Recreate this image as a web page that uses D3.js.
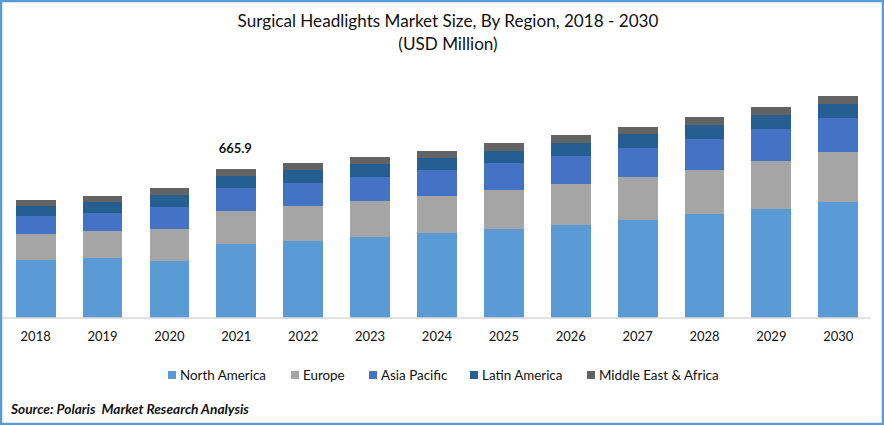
<!DOCTYPE html>
<html>
<head>
<meta charset="utf-8">
<script src="https://cdnjs.cloudflare.com/ajax/libs/d3/7.8.5/d3.min.js"></script>
<style>
  html, body { margin: 0; padding: 0; background: #fff; }
  svg { display: block; }
  text { font-family: Lato, "Open Sans", sans-serif; fill: #111; }
</style>
</head>
<body>
<div id="chart"></div>
<script>
// Values, USD million.
var years = ["2018", "2019", "2020", "2021", "2022", "2023", "2024", "2025", "2026", "2027", "2028", "2029", "2030"];
var regions = ["North America", "Europe", "Asia Pacific", "Latin America", "Middle East & Africa"];
var northAmerica = [259, 268, 255, 331, 344, 362, 380, 398, 416, 438, 465, 487, 518];
var europe = [116, 121, 143, 147, 156, 161, 165, 174, 183, 192, 197, 215, 224];
var asiaPacific = [80, 80, 98, 103, 103, 107, 116, 121, 125, 130, 139, 143, 152];
var latinAmerica = [45, 49, 54, 54, 58, 58, 54, 54, 58, 63, 63, 63, 63];
var middleEastAfrica = [27, 27, 31, 31, 31, 31, 31, 36, 36, 31, 36, 36, 36];
var totalLabel = { year: "2021", text: "665.9", value: 665.9 };

var seriesValues = [northAmerica, europe, asiaPacific, latinAmerica, middleEastAfrica];
var colors = ["#5b9bd5", "#a5a5a5", "#4472c4", "#255e91", "#636363"];

var width = 884, height = 425, baseline = 318;
var legendX = [168, 291, 369, 470, 587];

var table = years.map(function (y, i) {
  var row = { year: y };
  regions.forEach(function (r, k) { row[r] = seriesValues[k][i]; });
  return row;
});
var stacked = d3.stack().keys(regions)(table);

var x = d3.scaleBand().domain(years).range([2.2, 871.7]).paddingInner(0.405).paddingOuter(0.2025);
// 665.9 sits 149px above the axis in the reference.
var y = d3.scaleLinear().domain([0, 665.9]).range([baseline, 169]);

var svg = d3.select("#chart").append("svg").attr("width", width).attr("height", height);

svg.append("rect").attr("x", 1).attr("y", 1)
  .attr("width", width - 2).attr("height", height - 2)
  .attr("fill", "#fff").attr("stroke", "#5b9bd5").attr("stroke-width", 2.5);

// Title.
svg.append("text").attr("x", 448).attr("y", 27).attr("text-anchor", "middle")
  .attr("font-size", 17.1).text("Surgical Headlights Market Size, By Region, 2018 - 2030");
svg.append("text").attr("x", 448).attr("y", 50).attr("text-anchor", "middle")
  .attr("font-size", 17.1).text("(USD Million)");

// Stacked bars.
svg.selectAll("g.series")
  .data(stacked).enter().append("g")
  .attr("class", "series")
  .attr("fill", function (d, i) { return colors[i]; })
  .selectAll("rect")
  .data(function (d) { return d; }).enter().append("rect")
  .attr("x", function (d) { return Math.round(x(d.data.year)); })
  .attr("width", function (d) {
    return Math.round(x(d.data.year) + x.bandwidth()) - Math.round(x(d.data.year));
  })
  .attr("y", function (d) { return Math.round(y(d[1])); })
  .attr("height", function (d) { return Math.round(y(d[0])) - Math.round(y(d[1])); });

// X axis.
var axis = svg.append("g").attr("transform", "translate(0," + baseline + ")")
  .call(d3.axisBottom(x).tickSize(0).tickPadding(13.5));
axis.select(".domain").attr("stroke", "#d9d9d9").attr("stroke-width", 1.5).attr("d", "M2,0H871");
axis.selectAll("text").attr("font-size", 13).attr("font-family", "Lato").attr("fill", "#111");

// Total label on 2021.
svg.append("text")
  .attr("x", x(totalLabel.year) + x.bandwidth() / 2 - 1)
  .attr("y", y(totalLabel.value) - 16)
  .attr("text-anchor", "middle")
  .attr("font-size", 13).attr("font-weight", 700)
  .text(totalLabel.text);

// Legend.
var legend = svg.selectAll("g.legend")
  .data(regions).enter().append("g")
  .attr("class", "legend")
  .attr("transform", function (d, i) { return "translate(" + legendX[i] + ",371)"; });
legend.append("rect").attr("width", 8).attr("height", 8)
  .attr("fill", function (d, i) { return colors[i]; });
legend.append("text").attr("x", 12).attr("y", 9)
  .attr("font-size", 13.4).text(function (d) { return d; });

// Source.
svg.append("text").attr("x", 11).attr("y", 414)
  .attr("font-size", 13.7).attr("font-weight", 700).attr("font-style", "italic")
  .text("Source: Polaris  Market Research Analysis")
  .style("white-space", "pre");
</script>
</body>
</html>
